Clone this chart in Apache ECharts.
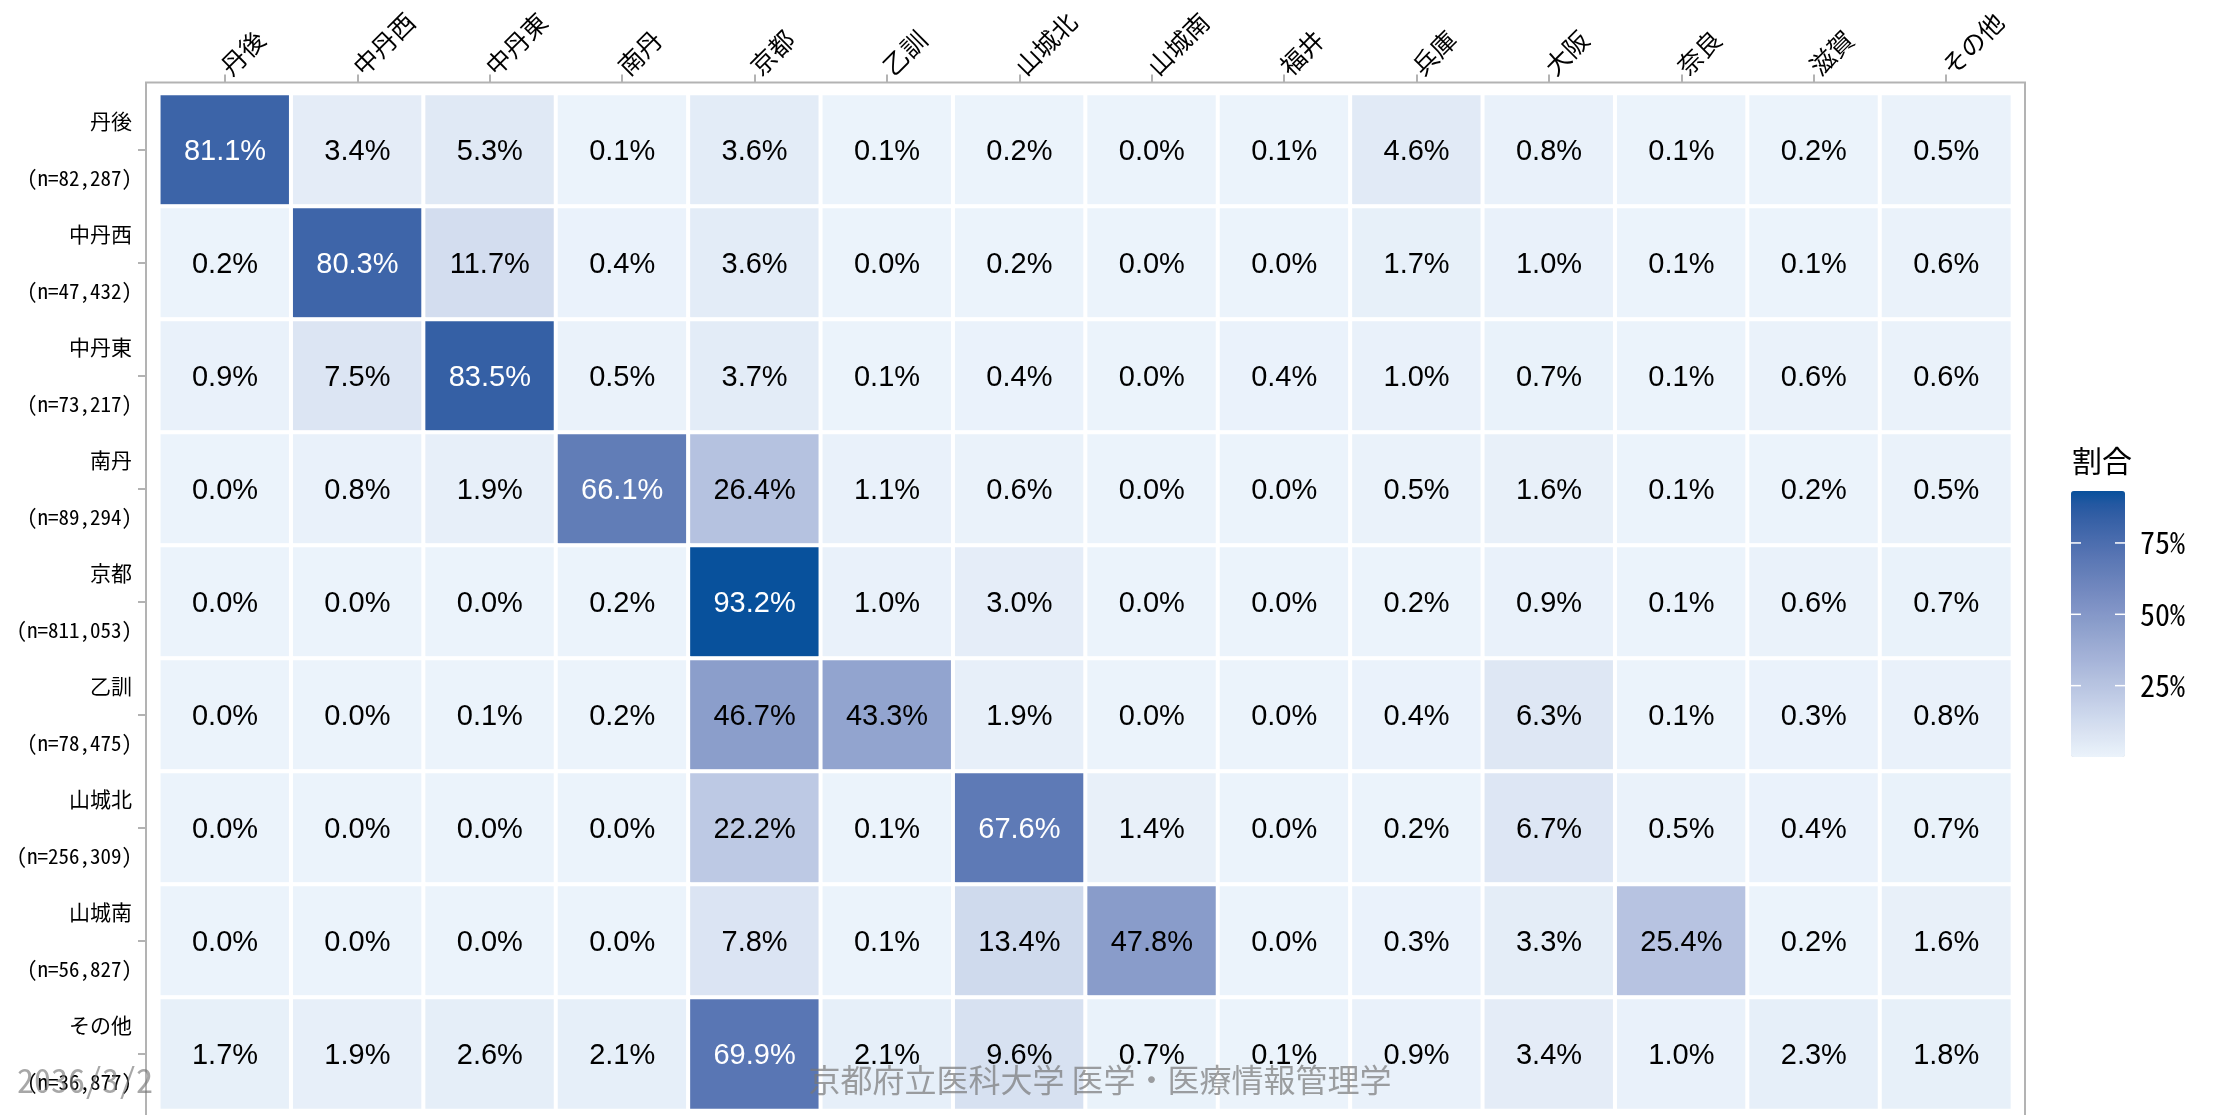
<!DOCTYPE html>
<html><head><meta charset="utf-8">
<script src="https://cdn.jsdelivr.net/npm/echarts@6/dist/echarts.min.js"></script>
<style>html,body{margin:0;padding:0;background:#fff}#c{width:2219px;height:1115px}</style>
</head><body><div id="c"></div>
<script>
// ---- data ----
const destinations = ['丹後','中丹西','中丹東','南丹','京都','乙訓','山城北','山城南','福井','兵庫','大阪','奈良','滋賀','その他'];
const origins = ['丹後','中丹西','中丹東','南丹','京都','乙訓','山城北','山城南','その他'];
const originN = ['82,287','47,432','73,217','89,294','811,053','78,475','256,309','56,827','36,877'];
const rowTango      = [81.1, 3.4, 5.3, 0.1, 3.6, 0.1, 0.2, 0.0, 0.1, 4.6, 0.8, 0.1, 0.2, 0.5];
const rowChutanWest = [0.2, 80.3, 11.7, 0.4, 3.6, 0.0, 0.2, 0.0, 0.0, 1.7, 1.0, 0.1, 0.1, 0.6];
const rowChutanEast = [0.9, 7.5, 83.5, 0.5, 3.7, 0.1, 0.4, 0.0, 0.4, 1.0, 0.7, 0.1, 0.6, 0.6];
const rowNantan     = [0.0, 0.8, 1.9, 66.1, 26.4, 1.1, 0.6, 0.0, 0.0, 0.5, 1.6, 0.1, 0.2, 0.5];
const rowKyoto      = [0.0, 0.0, 0.0, 0.2, 93.2, 1.0, 3.0, 0.0, 0.0, 0.2, 0.9, 0.1, 0.6, 0.7];
const rowOtokuni    = [0.0, 0.0, 0.1, 0.2, 46.7, 43.3, 1.9, 0.0, 0.0, 0.4, 6.3, 0.1, 0.3, 0.8];
const rowYamashiroN = [0.0, 0.0, 0.0, 0.0, 22.2, 0.1, 67.6, 1.4, 0.0, 0.2, 6.7, 0.5, 0.4, 0.7];
const rowYamashiroS = [0.0, 0.0, 0.0, 0.0, 7.8, 0.1, 13.4, 47.8, 0.0, 0.3, 3.3, 25.4, 0.2, 1.6];
const rowOther      = [1.7, 1.9, 2.6, 2.1, 69.9, 2.1, 9.6, 0.7, 0.1, 0.9, 3.4, 1.0, 2.3, 1.8];
const legendTicks = [25, 50, 75];
const legendTitle = '割合';
const watermarkDate = '2036/3/2';
const watermarkOrg = '京都府立医科大学 医学・医療情報管理学';

const rows = [rowTango, rowChutanWest, rowChutanEast, rowNantan, rowKyoto, rowOtokuni, rowYamashiroN, rowYamashiroS, rowOther];

// ---- colour scale (Lab interpolation like ggplot) ----
function hex2rgb(h){h=h.replace('#','');return [0,2,4].map(i=>parseInt(h.substr(i,2),16));}
function lin(c){c/=255;return c<=0.04045?c/12.92:Math.pow((c+0.055)/1.055,2.4);}
function delin(c){c=c<=0.0031308?12.92*c:1.055*Math.pow(c,1/2.4)-0.055;return Math.max(0,Math.min(255,Math.round(c*255)));}
const WX=0.95047,WY=1,WZ=1.08883;
function f(t){return t>0.008856?Math.cbrt(t):7.787*t+16/116;}
function fi(t){return t>0.206893?t*t*t:(t-16/116)/7.787;}
function rgb2lab(rgb){const [r,g,b]=rgb.map(lin);
 const x=(0.4124*r+0.3576*g+0.1805*b)/WX,y=(0.2126*r+0.7152*g+0.0722*b)/WY,z=(0.0193*r+0.1192*g+0.9505*b)/WZ;
 return [116*f(y)-16,500*(f(x)-f(y)),200*(f(y)-f(z))];}
function lab2rgb(l){const fy=(l[0]+16)/116,fx=fy+l[1]/500,fz=fy-l[2]/200;
 const x=fi(fx)*WX,y=fi(fy)*WY,z=fi(fz)*WZ;
 const r=3.2406*x-1.5372*y-0.4986*z,g=-0.9689*x+1.8758*y+0.0415*z,b=0.0557*x-0.2040*y+1.0570*z;
 return 'rgb('+[r,g,b].map(delin).join(',')+')';}
const lowC=rgb2lab(hex2rgb('#EBF3FB')), highC=rgb2lab(hex2rgb('#08519C'));
const stops=[];for(let i=0;i<=20;i++){const t=i/20;stops.push(lab2rgb([0,1,2].map(k=>lowC[k]+(highC[k]-lowC[k])*t)));}

const vMax = Math.max(...rows.flat());
const data=[];
rows.forEach((r,j)=>r.forEach((v,i)=>{
  data.push({value:[i,j,v],label:{color: v>50?'#ffffff':'#000000'}});
}));

// ---- layout ----
const gridL=158.8, gridT=93.5, cellW=132.4, cellH=113;
const gridW=cellW*destinations.length, gridH=cellH*origins.length;
const panel={x:146,y:82.5,w:2025-146,h:1125-82.5};
const barL=2071, barT=491, barW=54, barH=266;
const monoFont="'Noto Sans Mono CJK JP','Noto Sans CJK JP',sans-serif";

const graphics=[
  {type:'rect',z:0,silent:true,shape:{x:panel.x,y:panel.y,width:panel.w,height:panel.h},style:{fill:'none',stroke:'#b3b3b3',lineWidth:2}},
  {type:'text',z:100,left:barL+1,top:446,style:{text:legendTitle,font:"30px 'Noto Sans CJK JP'",fill:'#000'}}
];
legendTicks.forEach(t=>{
  const y=barT+(1-t/vMax)*barH;
  graphics.push({type:'text',z:100,x:barL+barW+15,y:y,style:{text:t+'%',font:'30px '+monoFont,fill:'#000',verticalAlign:'middle'}});
  graphics.push({type:'line',z:100,silent:true,shape:{x1:barL,y1:y,x2:barL+10,y2:y},style:{stroke:'#ffffff',lineWidth:1.5}});
  graphics.push({type:'line',z:100,silent:true,shape:{x1:barL+barW-10,y1:y,x2:barL+barW,y2:y},style:{stroke:'#ffffff',lineWidth:1.5}});
});
graphics.push({type:'text',z:200,silent:true,x:17,y:1080,style:{text:watermarkDate,font:'34px '+monoFont,fill:'rgba(120,120,120,0.65)',verticalAlign:'middle'}});
graphics.push({type:'text',z:200,silent:true,x:1100,y:1080,style:{text:watermarkOrg,font:"32px 'Noto Sans CJK JP'",fill:'rgba(120,120,120,0.7)',align:'center',verticalAlign:'middle'}});

const chart=echarts.init(document.getElementById('c'),null,{renderer:'canvas'});
chart.setOption({
  backgroundColor:'#ffffff',
  animation:false,
  grid:{left:gridL,top:gridT,width:gridW,height:gridH,outerBoundsMode:'none'},
  xAxis:{type:'category',position:'top',data:destinations,offset:gridT-panel.y,
    axisLine:{show:false},splitLine:{show:false},
    axisTick:{show:true,alignWithLabel:true,length:8,lineStyle:{color:'#b3b3b3',width:2}},
    axisLabel:{rotate:-45,margin:12,fontSize:25,fontFamily:monoFont,color:'#000',interval:0,showMinLabel:true,showMaxLabel:true,hideOverlap:false}},
  yAxis:{type:'category',inverse:true,data:origins.map((o,i)=>o+'\n('+'n='+originN[i]+')'),offset:gridL-panel.x,
    axisLine:{show:false},splitLine:{show:false},
    axisTick:{show:true,alignWithLabel:true,length:8,lineStyle:{color:'#b3b3b3',width:2}},
    axisLabel:{margin:14,fontSize:21,lineHeight:57,fontFamily:monoFont,color:'#000',align:'right',interval:0,showMinLabel:true,showMaxLabel:true,hideOverlap:false}},
  visualMap:{type:'continuous',min:0,max:vMax,orient:'vertical',left:barL,top:barT,itemWidth:barW,itemHeight:barH,
    padding:0,calculable:false,text:null,showLabel:false,inRange:{color:stops},seriesIndex:0,hoverLink:false},
  series:[{type:'heatmap',data:data,
    itemStyle:{borderColor:'#ffffff',borderWidth:4},
    label:{show:true,fontSize:29,offset:[0,2],fontFamily:"'Liberation Sans',Arial,sans-serif",
      formatter:p=>p.value[2].toFixed(1)+'%'},
    emphasis:{disabled:true}}],
  graphic:graphics
});
</script></body></html>
